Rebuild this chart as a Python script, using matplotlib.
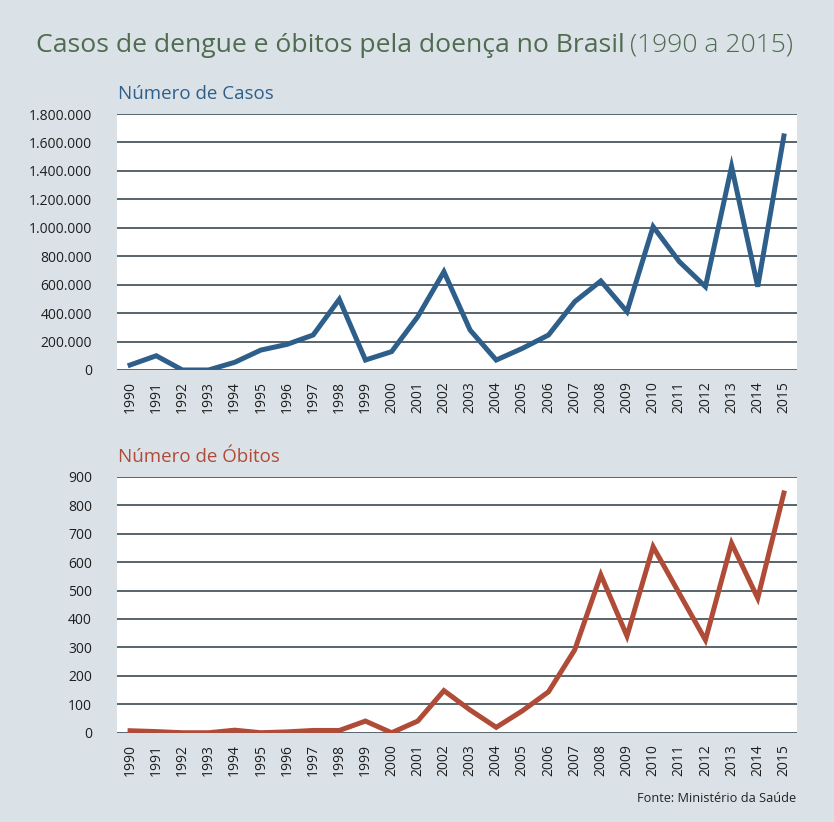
import matplotlib
matplotlib.use("Agg")
import matplotlib.pyplot as plt
from matplotlib.ticker import MultipleLocator, FuncFormatter

anos = list(range(1990, 2016))
casos = [35000, 100000, 0, 0, 54000, 140000, 180000, 246000, 497000, 70000,
         129000, 375000, 691000, 281000, 70000, 152000, 246000, 480000, 626000, 410000,
         1008000, 762000, 586000, 1430000, 586000, 1646000]
obitos = [7, 4, 0, 0, 9, 0, 3, 8, 8, 41,
          0, 41, 148, 80, 19, 77, 144, 291, 555, 340,
          654, 490, 326, 666, 473, 843]

fundo = '#dae2e7'
azul = '#2e5f8a'
vermelho = '#b04b37'
verde = '#4f6b50'
grade = '#3c4a54'

plt.rcParams['font.family'] = ['Open Sans', 'DejaVu Sans']

fig = plt.figure(figsize=(8.34, 8.22), dpi=100, facecolor=fundo)


def milhar(v, pos):
    return f"{int(v):,}".replace(",", ".")


def painel(rect, y, cor, ymax, passo):
    ax = fig.add_axes(rect)
    ax.set_facecolor('white')
    ax.plot(anos, y, color=cor, lw=3.6, solid_joinstyle='miter', zorder=3)
    ax.set_xlim(1989.5, 2015.5)
    ax.set_ylim(0, ymax)
    ax.yaxis.set_major_locator(MultipleLocator(passo))
    ax.yaxis.set_major_formatter(FuncFormatter(milhar))
    ax.set_xticks(anos)
    ax.set_xticklabels([str(a) for a in anos], rotation=90)
    ax.grid(axis='y', color=grade, lw=1.2, zorder=1)
    for s in ax.spines.values():
        s.set_visible(False)
    ax.tick_params(axis='both', length=0, labelsize=10, colors='#1e1e1e')
    ax.tick_params(axis='y', pad=18)
    ax.tick_params(axis='x', pad=8)
    return ax


ax1 = painel([0.1403, 0.5499, 0.8153, 0.3114], casos, azul, 1800000, 200000)
ax2 = painel([0.1403, 0.1086, 0.8153, 0.3114], obitos, vermelho, 900, 100)

# titulo em duas partes, ajustado para caber entre x=36 e x=792
r = fig.canvas.get_renderer()
base = 21
t1 = fig.text(36 / 834, 1 - 52 / 822, 'Casos de dengue e óbitos pela doença no Brasil',
              fontsize=base, color=verde, va='baseline')
t2 = fig.text(0, 1 - 52 / 822, '(1990 a 2015)', fontsize=base, color=verde,
              va='baseline', fontweight='light')
w1 = t1.get_window_extent(renderer=r).width
w2 = t2.get_window_extent(renderer=r).width
escala = 756 / (w1 + w2 + 0.3 * base)
tam = base * escala
t1.set_fontsize(tam)
t2.set_fontsize(tam)
bb = t1.get_window_extent(renderer=r)
t2.set_x((bb.x1 + 0.3 * tam) / 834)

fig.text(118 / 834, 1 - 99 / 822, 'Número de Casos', fontsize=13.5, color=azul,
         va='baseline')
fig.text(118 / 834, 1 - 462 / 822, 'Número de Óbitos', fontsize=13.5, color=vermelho,
         va='baseline')
fig.text(796 / 834, 1 - 802 / 822, 'Fonte: Ministério da Saúde', fontsize=9.2,
         color='#222222', ha='right', va='baseline')

fig.savefig('out.png', dpi=100, facecolor=fundo)
